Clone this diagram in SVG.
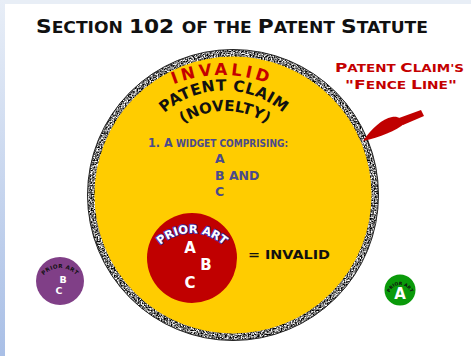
<svg xmlns="http://www.w3.org/2000/svg" width="471" height="356" viewBox="0 0 471 356">
  <style>
    .b { font-family: "DejaVu Sans", "Liberation Sans", sans-serif; font-weight: bold; }
    .blk { fill: #111; }
    .red { fill: #C40000; }
    .slate { fill: #4A4A8C; }
    .wht { fill: #fff; }
  </style>
  <defs>
    <linearGradient id="edge" x1="0" y1="0" x2="0" y2="1">
      <stop offset="0" stop-color="#e8eef7"/>
      <stop offset="1" stop-color="#a9bfe6"/>
    </linearGradient>
    <filter id="grain" x="-5%" y="-5%" width="110%" height="110%" color-interpolation-filters="sRGB">
      <feTurbulence type="fractalNoise" baseFrequency="0.7" numOctaves="3" seed="4" result="n"/>
      <feColorMatrix in="n" type="matrix" values="2.4 0 0 0 -0.72  2.4 0 0 0 -0.72  2.4 0 0 0 -0.72  0 0 0 0 1" result="g"/>
      <feComposite in="g" in2="SourceGraphic" operator="in"/>
    </filter>
    <!-- baselines for curved labels -->
    <path id="arcInvalid" d="M93,204 A129,129 0 0 1 351,204"/>
    <path id="arcClaim" d="M134.5,180 A89.5,89.5 0 0 1 313.5,180"/>
    <path id="arcNovelty" d="M149,187 A76,76 0 0 1 301,187"/>
    <path id="arcPriorRed" d="M145,280 A47,47 0 0 1 239,280"/>
    <path id="arcPriorPurple" d="M38,290 A22,22 0 0 1 82,290"/>
    <path id="arcPriorGreen" d="M389,296 A11,11 0 0 1 411,296"/>
  </defs>

  <!-- page -->
  <rect x="0" y="0" width="471" height="356" fill="#fff"/>
  <rect x="0" y="0" width="471" height="4" fill="#e8eef6"/>
  <rect x="0" y="0" width="5" height="356" fill="url(#edge)"/>

  <!-- title -->
  <text class="b blk" x="232" y="33" text-anchor="middle" textLength="392" lengthAdjust="spacingAndGlyphs"><tspan font-size="19">S</tspan><tspan font-size="15">ECTION </tspan><tspan font-size="19">102 </tspan><tspan font-size="15">OF THE </tspan><tspan font-size="19">P</tspan><tspan font-size="15">ATENT </tspan><tspan font-size="19">S</tspan><tspan font-size="15">TATUTE</tspan></text>

  <!-- claim boundary -->
  <g id="claim">
    <circle cx="233" cy="195" r="142" fill="#FFCC00"/>
    <circle cx="233" cy="195" r="142" fill="none" stroke="#000" stroke-width="7" filter="url(#grain)"/>
    <circle cx="233" cy="195" r="145.5" fill="none" stroke="#222" stroke-width="1"/>
    <text class="b red" font-size="16.5" letter-spacing="3.5"><textPath href="#arcInvalid" startOffset="50%" text-anchor="middle">INVALID</textPath></text>
    <text class="b blk" font-size="15.5" letter-spacing="0.4"><textPath href="#arcClaim" startOffset="50%" text-anchor="middle">PATENT CLAIM</textPath></text>
    <text class="b blk" font-size="15"><textPath href="#arcNovelty" startOffset="50%" text-anchor="middle">(NOVELTY)</textPath></text>
    <text class="b slate" x="148" y="147" textLength="140" lengthAdjust="spacingAndGlyphs"><tspan font-size="12.5">1. A</tspan><tspan font-size="10"> WIDGET COMPRISING:</tspan></text>
    <text class="b slate" font-size="12.5" x="215" y="163">A</text>
    <text class="b slate" font-size="12.5" x="215" y="180">B AND</text>
    <text class="b slate" font-size="12.5" x="215" y="196">C</text>
  </g>

  <!-- anticipating prior art -->
  <g id="prior-art-abc">
    <circle cx="192" cy="258" r="45" fill="#C00000"/>
    <text class="b wht" font-size="11.5" stroke="#3b2aa0" stroke-width="1.8" paint-order="stroke" stroke-linejoin="round"><textPath href="#arcPriorRed" startOffset="50%" text-anchor="middle">PRIOR ART</textPath></text>
    <text class="b wht" font-size="15" x="190" y="253" text-anchor="middle">A</text>
    <text class="b wht" font-size="15" x="206" y="270" text-anchor="middle">B</text>
    <text class="b wht" font-size="15" x="190" y="288" text-anchor="middle">C</text>
  </g>
  <g id="result">
    <text class="b blk" font-size="13" x="248" y="259" textLength="82" lengthAdjust="spacingAndGlyphs">= INVALID</text>
  </g>

  <!-- fence line label and pointer -->
  <g id="fence-label">
    <text class="b red" x="399.5" y="72" text-anchor="middle" textLength="129" lengthAdjust="spacingAndGlyphs"><tspan font-size="12.5">P</tspan><tspan font-size="10">ATENT </tspan><tspan font-size="12.5">C</tspan><tspan font-size="10">LAIM'S</tspan></text>
    <text class="b red" x="401" y="89" text-anchor="middle" textLength="112" lengthAdjust="spacingAndGlyphs"><tspan font-size="12.5">"F</tspan><tspan font-size="10">ENCE </tspan><tspan font-size="12.5">L</tspan><tspan font-size="10">INE</tspan><tspan font-size="12.5">"</tspan></text>
  </g>
  <g id="connectors">
    <path d="M363,141 C372,128 382,119 392,117 C398,116 402,119 405,123 C396,131 380,137 363,141 Z" fill="#C00000"/>
    <path d="M399,118 L421,110 L424,116 L403,125 Z" fill="#C00000"/>
  </g>

  <!-- prior art outside the claim -->
  <g id="prior-art-bc">
    <circle cx="60" cy="281" r="24" fill="#803F87"/>
    <text class="b blk" font-size="5.5" letter-spacing="0.4"><textPath href="#arcPriorPurple" startOffset="50%" text-anchor="middle">PRIOR ART</textPath></text>
    <text class="b wht" font-size="9.5" x="63" y="283" text-anchor="middle">B</text>
    <text class="b wht" font-size="9.5" x="59" y="294" text-anchor="middle">C</text>
  </g>
  <g id="prior-art-a">
    <circle cx="400" cy="290" r="15.5" fill="#0A9A0A"/>
    <text class="b blk" font-size="4.5"><textPath href="#arcPriorGreen" startOffset="50%" text-anchor="middle">PRIOR ART</textPath></text>
    <text class="b wht" font-size="15" x="400" y="299" text-anchor="middle">A</text>
  </g>
</svg>
